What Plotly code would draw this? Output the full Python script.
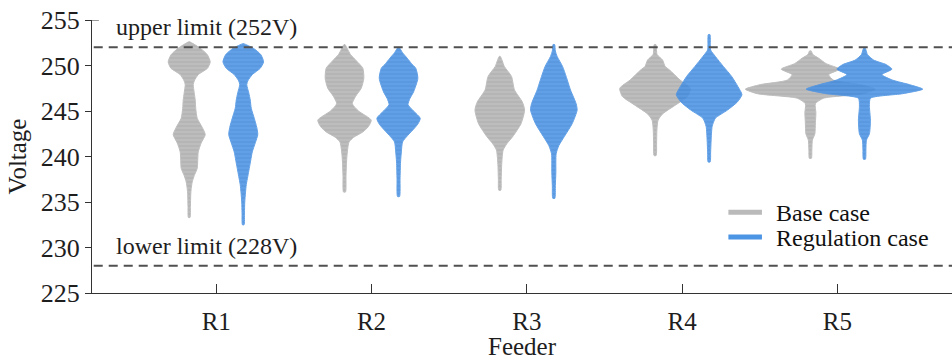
import plotly.graph_objects as go

# Feeder categories and axis ticks
FEEDERS = ["R1", "R2", "R3", "R4", "R5"]
Y_TICKS = [225, 230, 235, 240, 245, 250, 255]
UPPER_LIMIT = 252
LOWER_LIMIT = 228

# Violin outlines: voltage levels (V) and kernel-density half widths (relative units)
R1_BASE_V = [252.6, 251.9, 251.2, 250.4, 249.7, 249.0, 248.3, 247.9, 247.0, 246.2, 245.3, 244.2, 243.2, 242.4, 241.5, 240.5, 239.6, 238.7, 237.9, 237.2, 236.5, 235.8, 234.5, 233.3]
R1_BASE_W = [0.5, 11, 18, 21, 18.3, 9, 5, 4, 5, 6, 6.5, 8, 13, 16, 12, 9, 8.5, 8, 5, 3, 2, 1.5, 1.2, 0.8]
R1_REG_V = [252.4, 251.9, 251.2, 250.4, 249.7, 249.0, 248.3, 247.9, 247.0, 246.2, 245.3, 244.2, 243.2, 242.4, 241.5, 240.5, 239.6, 238.7, 237.8, 236.9, 236.0, 235.0, 233.8, 232.5]
R1_REG_W = [0.5, 10, 17.5, 20.3, 17, 9, 4.5, 3.5, 5.5, 7, 8, 11, 13.5, 14.5, 12, 9, 7.5, 6, 4.5, 3, 2.2, 1.5, 1.2, 0.8]

R2_BASE_V = [252.3, 251.8, 251.2, 250.5, 249.7, 248.6, 247.5, 246.6, 245.8, 245.0, 244.0, 243.3, 242.7, 242.1, 241.6, 240.5, 239.4, 237.8, 236.1]
R2_BASE_W = [0.5, 3, 6, 12, 18.3, 19.3, 16.7, 11, 7.8, 14, 26.7, 24, 18.3, 9, 4.5, 2.8, 2, 1.5, 1]
R2_REG_V = [252.0, 251.4, 250.8, 250.2, 249.7, 248.6, 247.1, 246.4, 245.7, 245.0, 244.2, 243.6, 243.1, 242.3, 241.6, 240.5, 239.4, 237.5, 235.6]
R2_REG_W = [0.5, 4, 8.7, 13, 17.2, 19.3, 15, 11.5, 9.5, 15, 21.7, 19.5, 15.8, 9, 4, 2.8, 2, 1.5, 1]

R3_BASE_V = [251.0, 250.5, 249.9, 248.8, 247.3, 246.0, 245.1, 243.6, 242.2, 241.4, 240.7, 239.8, 238.9, 237.5, 236.3]
R3_BASE_W = [0.5, 2.5, 4.5, 11.7, 14.7, 22.5, 24.8, 21.2, 13, 7, 3.3, 2.3, 1.8, 1.4, 1]
R3_REG_V = [252.3, 251.6, 251.0, 249.9, 248.8, 247.3, 245.8, 245.1, 243.6, 242.2, 241.2, 240.3, 238.2, 236.8, 235.4]
R3_REG_W = [0.8, 1.5, 3.3, 8.7, 12.3, 16.7, 22.3, 23.3, 18.3, 10.5, 5, 2.3, 2, 1.5, 1]

R4_BASE_V = [252.3, 251.2, 250.6, 249.9, 249.5, 248.4, 247.5, 246.6, 245.7, 244.7, 244.0, 242.9, 241.5, 240.1]
R4_BASE_W = [0.8, 2, 7.5, 10, 14.5, 25, 35.3, 32.7, 21, 7.7, 3, 1.8, 1.5, 1]
R4_REG_V = [253.4, 252.3, 251.7, 251.0, 249.9, 248.8, 247.7, 246.8, 246.0, 245.1, 244.2, 243.3, 241.8, 240.5, 239.4]
R4_REG_W = [0.8, 1.2, 1.5, 6.2, 14.2, 22.5, 28.7, 32.8, 28.3, 18.3, 6.2, 3, 2, 1.5, 1]

R5_BASE_V = [251.6, 251.2, 250.8, 250.2, 249.6, 249.0, 248.4, 247.9, 247.4, 246.9, 246.4, 245.8, 244.8, 243.7, 242.5, 241.8, 240.8, 239.8]
R5_BASE_W = [0.8, 2.5, 8.3, 15.8, 29.2, 18.3, 23, 50, 65, 53, 13, 5, 5.5, 5, 4.5, 2, 1.5, 1]
R5_REG_V = [251.9, 251.2, 250.6, 250.1, 249.6, 249.0, 248.4, 247.9, 247.4, 246.9, 246.4, 245.5, 244.0, 242.5, 241.8, 240.8, 239.7]
R5_REG_W = [0.8, 3, 9.2, 21.7, 27.5, 17.5, 28, 45, 58.3, 38, 6, 5, 6, 5, 2, 1.5, 1]

BASE_PROFILES = [(R1_BASE_V, R1_BASE_W), (R2_BASE_V, R2_BASE_W), (R3_BASE_V, R3_BASE_W),
                 (R4_BASE_V, R4_BASE_W), (R5_BASE_V, R5_BASE_W)]
REG_PROFILES = [(R1_REG_V, R1_REG_W), (R2_REG_V, R2_REG_W), (R3_REG_V, R3_REG_W),
                (R4_REG_V, R4_REG_W), (R5_REG_V, R5_REG_W)]

# Styling
FONT = '"Liberation Serif", "Times New Roman", Times, serif'
TEXT = "#1e1e1e"
GREY = "rgb(186,186,186)"
GREY_STRIPE = "rgb(158,158,158)"
BLUE = "rgb(76,148,228)"
BLUE_STRIPE = "rgb(50,120,202)"
WIDTH_SCALE = 1 / 155.3   # density units -> category units
OFFSET = 0.174            # side-by-side shift of the two cases
X_RANGE = [0.2, 5.738]


def violin_outline(center, levels, widths):
    xs = [center + w * WIDTH_SCALE for w in widths]
    xs += [center - w * WIDTH_SCALE for w in reversed(widths)]
    ys = list(levels) + list(reversed(levels))
    xs.append(xs[0])
    ys.append(ys[0])
    return xs, ys


fig = go.Figure()

for group, profiles, shift, color, stripe, opacity in [
    ("Base case", BASE_PROFILES, -OFFSET, GREY, GREY_STRIPE, 0.95),
    ("Regulation case", REG_PROFILES, OFFSET, BLUE, BLUE_STRIPE, 0.88),
]:
    for i, (levels, widths) in enumerate(profiles):
        xs, ys = violin_outline(i + 1 + shift, levels, widths)
        fig.add_trace(go.Scatter(
            x=xs, y=ys, mode="lines", fill="toself",
            line=dict(color=color, width=1, shape="spline", smoothing=0.6),
            fillcolor=color,
            fillpattern=dict(shape="-", bgcolor=color, fgcolor=stripe, size=4, solidity=0.3),
            opacity=opacity, name=group, legendgroup=group, showlegend=False,
            hoverinfo="skip",
        ))

# Voltage limits
for level, label in [(UPPER_LIMIT, "upper limit (252V)"), (LOWER_LIMIT, "lower limit (228V)")]:
    fig.add_shape(type="line", xref="paper", yref="y", x0=0.002, x1=1, y0=level, y1=level,
                  line=dict(color="#505050", width=2, dash="9px,6px"), layer="above")
    fig.add_annotation(x=0.025, xref="paper", y=level, yref="y", text=label, showarrow=False,
                       xanchor="left", yanchor="bottom", yshift=5,
                       font=dict(family=FONT, size=24, color=TEXT))

# Top y tick drawn toward the plot interior
fig.add_shape(type="line", xref="paper", yref="y", x0=0, x1=0.008, y0=255, y1=255,
              line=dict(color="#333333", width=1))

# Legend drawn as line swatches with labels
for label, color, ypos in [("Base case", GREY, 0.296), ("Regulation case", BLUE, 0.205)]:
    fig.add_shape(type="line", xref="paper", yref="paper", x0=0.74, x1=0.779, y0=ypos, y1=ypos,
                  line=dict(color=color, width=5))
    fig.add_annotation(x=0.793, xref="paper", y=ypos, yref="paper", text=label, showarrow=False,
                       xanchor="left", yanchor="middle", yshift=-1,
                       font=dict(family=FONT, size=24, color="#111111"))

fig.update_layout(
    width=952, height=360,
    margin=dict(l=92, r=0, t=20, b=67),
    paper_bgcolor="white", plot_bgcolor="white",
    font=dict(family=FONT, color=TEXT),
    showlegend=False,
    xaxis=dict(
        range=X_RANGE, tickmode="array", tickvals=list(range(1, len(FEEDERS) + 1)),
        ticktext=FEEDERS, ticks="inside", ticklen=9, tickwidth=1, tickcolor="#333333",
        showline=True, linecolor="#333333", linewidth=1.3, showgrid=False, zeroline=False,
        tickfont=dict(family=FONT, size=25, color=TEXT), ticklabelstandoff=6,
        title=dict(text="Feeder", font=dict(family=FONT, size=25, color=TEXT), standoff=2),
    ),
    yaxis=dict(
        range=[225, 255], tickmode="array", tickvals=Y_TICKS,
        ticks="outside", ticklen=6, tickwidth=1, tickcolor="#333333",
        showline=True, linecolor="#333333", linewidth=1.3, showgrid=False, zeroline=False,
        tickfont=dict(family=FONT, size=26, color=TEXT),
        title=dict(text="Voltage", font=dict(family=FONT, size=25, color=TEXT), standoff=6),
    ),
)

fig.write_html("out.html")
